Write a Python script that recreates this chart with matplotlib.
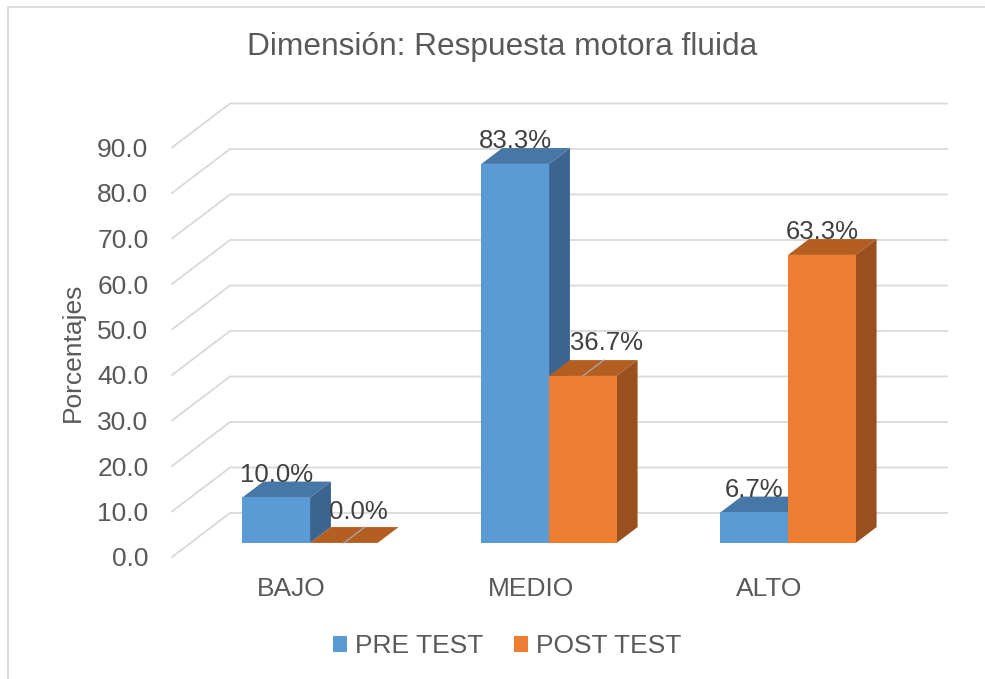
import numpy as np
import matplotlib
matplotlib.use('Agg')
import matplotlib.pyplot as plt
from matplotlib.patches import Polygon, Rectangle

matplotlib.rcParams['font.family'] = ['Liberation Sans', 'DejaVu Sans']

categories = ['BAJO', 'MEDIO', 'ALTO']
series = ['PRE TEST', 'POST TEST']
pre_test = [10.0, 83.3, 6.7]
post_test = [0.0, 36.7, 63.3]
yticks = [0, 10, 20, 30, 40, 50, 60, 70, 80, 90]

front_cols = ['#5B9BD5', '#ED7D31']
top_cols = ['#4677A6', '#B55E22']
side_cols = ['#3B6590', '#9A4F1E']
text_col = '#595959'
grid_col = '#D9D9D9'

# pixel geometry of the fake 3D box
W, H = 985, 679
px_cat = 239.0    # px per category
px_val = 4.55     # px per percent
DX = 58.0 / px_cat   # depth shift (x) in category units
DY = 44.0 / px_val   # depth shift (y) in value units
d0, d1 = 0.32, 0.68  # bar front/back depth fractions
bw = 0.283           # bar width in category units

fig = plt.figure(figsize=(W / 100, H / 100), dpi=100)
left, right, bottom, top = 172, 945, 557, 103
ax = fig.add_axes([left / W, 1 - bottom / H, (right - left) / W, (bottom - top) / H])
ax.set_xlim(-0.5, -0.5 + (right - left) / px_cat)
ax.set_ylim(0, (bottom - top) / px_val)
for s in ax.spines.values():
    s.set_visible(False)
ax.patch.set_alpha(0)

# gridlines: floor-side diagonal + back wall
for v in yticks:
    ax.plot([-0.5, -0.5 + DX, 2.5 + DX], [v, v + DY, v + DY],
            color=grid_col, lw=1.3, zorder=1, clip_on=False)

ax.set_yticks(yticks)
ax.set_yticklabels(['%.1f' % v for v in yticks])
ax.set_xticks(range(len(categories)))
ax.set_xticklabels(categories)
ax.tick_params(axis='y', length=0, pad=17, labelsize=19, labelcolor=text_col)
ax.tick_params(axis='x', length=0, pad=14.5, labelsize=19, labelcolor=text_col)

# label tweaks (pixels) for the two labels Excel moved, with leader lines
label_shift = {(1, 0): (14, -8), (1, 1): (24, -10)}

z = 2
for i in range(len(categories)):
    for s, vals in enumerate([pre_test, post_test]):
        v = vals[i]
        x0 = i - bw + s * bw + d0 * DX
        x1 = x0 + bw
        b = d0 * DY
        ddx = (d1 - d0) * DX
        ddy = (d1 - d0) * DY
        front = Polygon([(x0, b), (x1, b), (x1, b + v), (x0, b + v)], closed=True,
                        fc=front_cols[s], ec='none', zorder=z)
        topf = Polygon([(x0, b + v), (x1, b + v), (x1 + ddx, b + v + ddy),
                        (x0 + ddx, b + v + ddy)], closed=True,
                       fc=top_cols[s], ec='none', zorder=z)
        side = Polygon([(x1, b), (x1, b + v), (x1 + ddx, b + v + ddy),
                        (x1 + ddx, b + ddy)], closed=True,
                       fc=side_cols[s], ec='none', zorder=z)
        for p in (side, topf, front):
            p.set_clip_on(False)
            ax.add_patch(p)
        z += 1
        lx = (x0 + x1) / 2
        ly = b + v + ddy
        sx, sy = label_shift.get((s, i), (0, 0))
        if (s, i) in label_shift:
            ax.plot([lx, lx + ddx], [b + v, b + v + ddy], color='#A6A6A6',
                    lw=1, zorder=z, clip_on=False)
        ax.annotate('%.1f%%' % v, (lx, ly), xytext=(sx * 0.72, -sy * 0.72),
                    textcoords='offset points', ha='center', va='baseline',
                    fontsize=18.5, color='#404040', zorder=20)

fig.text(502 / W, 1 - 47 / H, 'Dimensión: Respuesta motora fluida',
         ha='center', va='center', fontsize=22.8, color=text_col)
fig.text(73 / W, 1 - 352 / H, 'Porcentajes', rotation=90,
         ha='center', va='center', fontsize=19, color=text_col)

handles = [Rectangle((0, 0), 1, 1, fc=c, ec='none') for c in front_cols]
fig.legend(handles, series, loc='center', bbox_to_anchor=(507 / W, 1 - 646 / H),
           ncol=2, frameon=False, fontsize=19, handlelength=0.55,
           handleheight=0.55, handletextpad=0.3, columnspacing=1.15,
           labelcolor=text_col)

# chart area border (only top and left visible in the crop)
fig.patches.append(Rectangle((7.5 / W, -0.1), 1.2, 1 - 7.5 / H + 0.1,
                             transform=fig.transFigure, fill=False,
                             ec=grid_col, lw=1.3))

fig.savefig('out.png', dpi=100)
